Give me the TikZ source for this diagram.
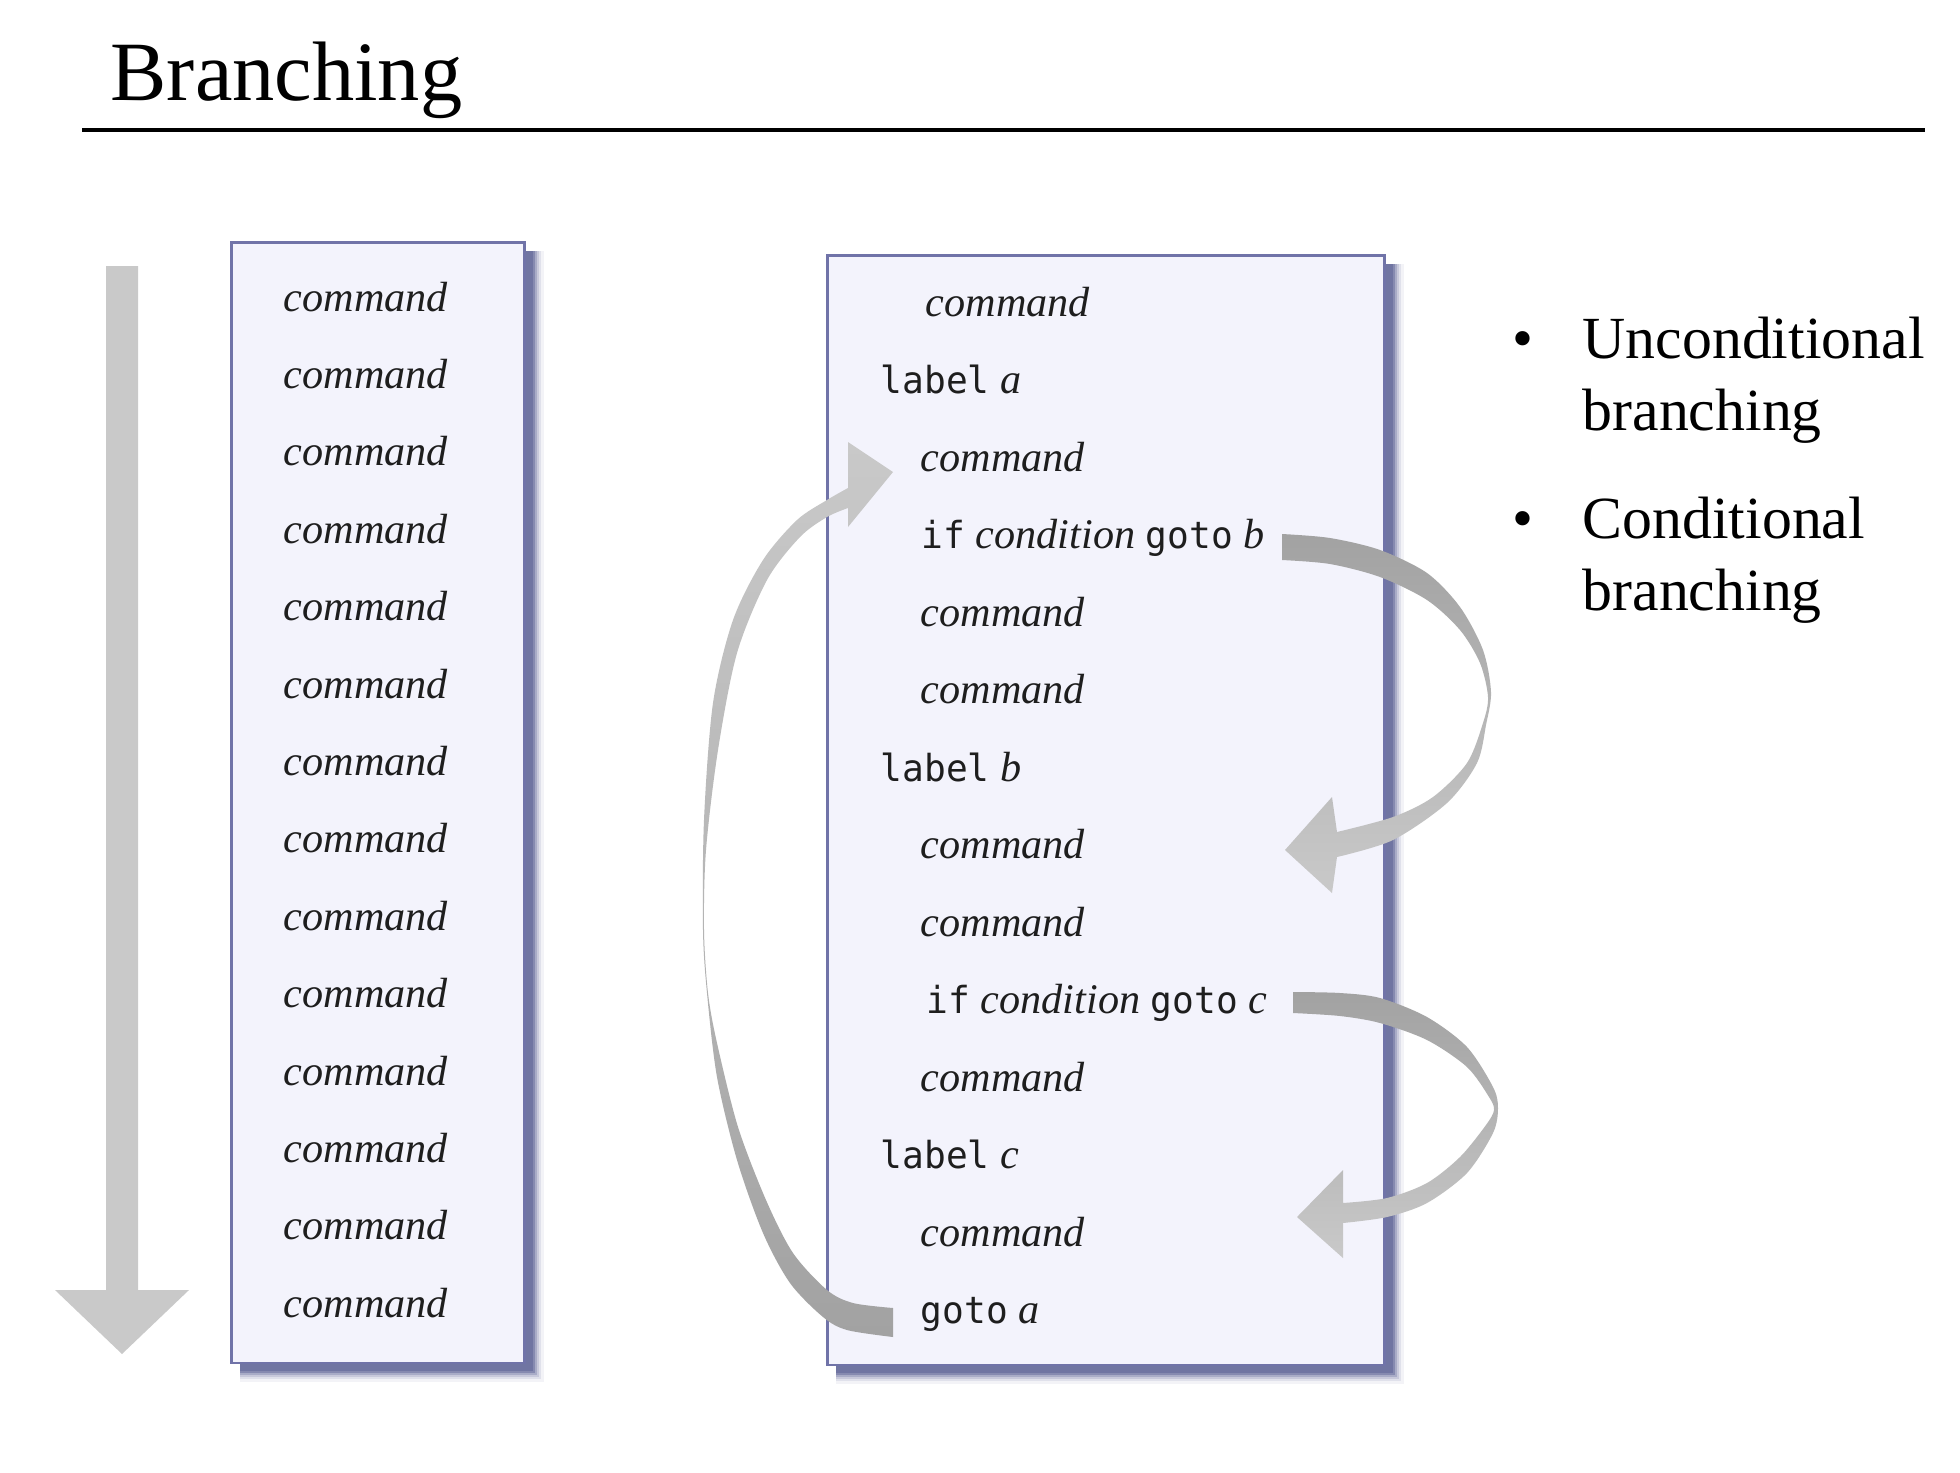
\documentclass[tikz,border=0pt]{standalone}
\usepackage{fontspec}
\setmainfont{Liberation Serif}
\newfontfamily\codefont{DejaVu Sans Mono}[FakeStretch=0.97]
\newcommand{\kw}[1]{{\fontsize{10.6}{12}\codefont #1}}
\definecolor{boxfill}{HTML}{F3F3FC}
\definecolor{boxline}{HTML}{7073A8}
\definecolor{shadowc}{HTML}{5C6196}
\definecolor{arrowlight}{HTML}{C9C9C9}
\definecolor{arrowmid}{HTML}{D9D9D9}
\definecolor{arrowdark}{HTML}{A2A2A2}
\definecolor{txt}{HTML}{1E1E1E}
\tikzset{
  cmd/.style={anchor=base west, inner sep=0pt, text=txt, font=\fontsize{12}{14}\selectfont\itshape},
  codeline/.style={anchor=base west, inner sep=0pt, text=txt, font=\fontsize{12}{14}\selectfont},
  bulletitem/.style={anchor=base west, inner sep=0pt, text=black, font=\fontsize{17}{20}\selectfont},
  bulletdot/.style={anchor=base, inner sep=0pt, text=black, font=\fontsize{17}{20}\selectfont},
  listbox/.style={draw=boxline, fill=boxfill, line width=0.8pt, anchor=north west, inner sep=0pt},
}
\begin{document}
\begin{tikzpicture}[x=0.01cm, y=-0.01cm]
\useasboundingbox[fill=white] (0,0) rectangle (1960,1472);

% title and rule
\node[anchor=base west, inner sep=0pt, font=\fontsize{24}{28}\selectfont] (title) at (110,100) {Branching};
\coordinate (ruleL) at (82,130);
\coordinate (ruleR) at (1925,130);
\draw[line width=1pt] (ruleL) -- (ruleR);

% straight flow arrow
\fill[arrowlight] (106,266) -- (138,266) -- (138,1290) -- (189,1290) -- (122,1354) -- (55,1290) -- (106,1290) -- cycle;

% shadows (soft)
\foreach \d/\o in {21/0.07,18/0.12,16/0.18,14/0.28,12/0.45,10/0.5}{
  \fill[shadowc, opacity=\o] (240,251) rectangle (523+\d,1361+\d);
  \fill[shadowc, opacity=\o] (836,264) rectangle (1383+\d,1363+\d);
}

% left box
\node[listbox, minimum width=2.93cm, minimum height=11.2cm] (lbox) at (230,241) {};
\foreach \i in {0,...,13}{
  \node[cmd] (l\i) at (283,{311+77.4*\i}) {command};
}

% right box
\node[listbox, minimum width=5.57cm, minimum height=11.09cm] (rbox) at (826,254) {};
\node[cmd] (r0) at (925,316) {command};
\node[codeline] (r1) at (880,393.5) {\kw{label} \textit{a}};
\node[cmd] (r2) at (920,471) {command};
\node[codeline] (r3) at (921,548.5) {\kw{if} \textit{condition} \kw{goto} \textit{b}};
\node[cmd] (r4) at (920,626) {command};
\node[cmd] (r5) at (920,703.5) {command};
\node[codeline] (r6) at (880,781) {\kw{label} \textit{b}};
\node[cmd] (r7) at (920,858.5) {command};
\node[cmd] (r8) at (920,936) {command};
\node[codeline] (r9) at (926,1013.5) {\kw{if} \textit{condition} \kw{goto} \textit{c}};
\node[cmd] (r10) at (920,1091) {command};
\node[codeline] (r11) at (880,1168.5) {\kw{label} \textit{c}};
\node[cmd] (r12) at (920,1246) {command};
\node[codeline] (r13) at (920,1323.5) {\kw{goto} \textit{a}};

% curved arrow: goto b
\shade[top color=arrowdark, bottom color=arrowlight]
  (1282,560) -- plot[smooth] coordinates {(1282,534) (1330,538) (1380,550) (1427,573) (1460,607) (1483,650) (1491,692) (1486,725) (1477,763) (1447,803) (1393,840) (1337,857)}
  -- (1332,893) -- (1285,850) -- (1332,797)
  -- plot[smooth] coordinates {(1337,832) (1393,817) (1433,797) (1467,763) (1483,723) (1488,697) (1480,663) (1460,630) (1427,600) (1380,577) (1330,564) (1282,560)}
  -- cycle;

% curved arrow: goto c
\shade[top color=arrowdark, bottom color=arrowlight]
  (1293,1013) -- plot[smooth] coordinates {(1293,992) (1340,993) (1380,998) (1427,1017) (1467,1047) (1493,1087) (1498,1108) (1493,1133) (1467,1173) (1427,1203) (1387,1217) (1343,1223)}
  -- (1343,1258) -- (1297,1217) -- (1343,1170)
  -- plot[smooth] coordinates {(1343,1203) (1387,1198) (1427,1183) (1460,1157) (1486,1125) (1494,1110) (1489,1097) (1467,1067) (1427,1040) (1380,1023) (1340,1016) (1293,1013)}
  -- cycle;

% curved arrow: goto a
\shade[top color=arrowlight, middle color=arrowmid, bottom color=arrowdark]
  (893,1308) -- plot[smooth] coordinates {(893,1337) (847,1330) (823,1317) (790,1283) (763,1233) (737,1160) (717,1077) (707,993) (703,930) (704,820) (713,703) (733,620) (763,560) (797,520) (827,500) (848,488)}
  -- (848,442) -- (893,472) -- (848,527)
  -- plot[smooth] coordinates {(848,508) (827,517) (800,537) (767,580) (737,653) (718,750) (706,850) (704,930) (708,993) (717,1043) (738,1127) (766,1200) (793,1253) (827,1290) (853,1303) (893,1308)}
  -- cycle;

% bullets
\node[bulletdot] (d1) at (1523,358) {\textbullet};
\node[bulletitem] (t1) at (1582,358) {Unconditional};
\node[bulletitem] (t2) at (1582,430) {branching};
\node[bulletdot] (d2) at (1523,538) {\textbullet};
\node[bulletitem] (t3) at (1582,538) {Conditional};
\node[bulletitem] (t4) at (1582,610) {branching};
\end{tikzpicture}
\end{document}
